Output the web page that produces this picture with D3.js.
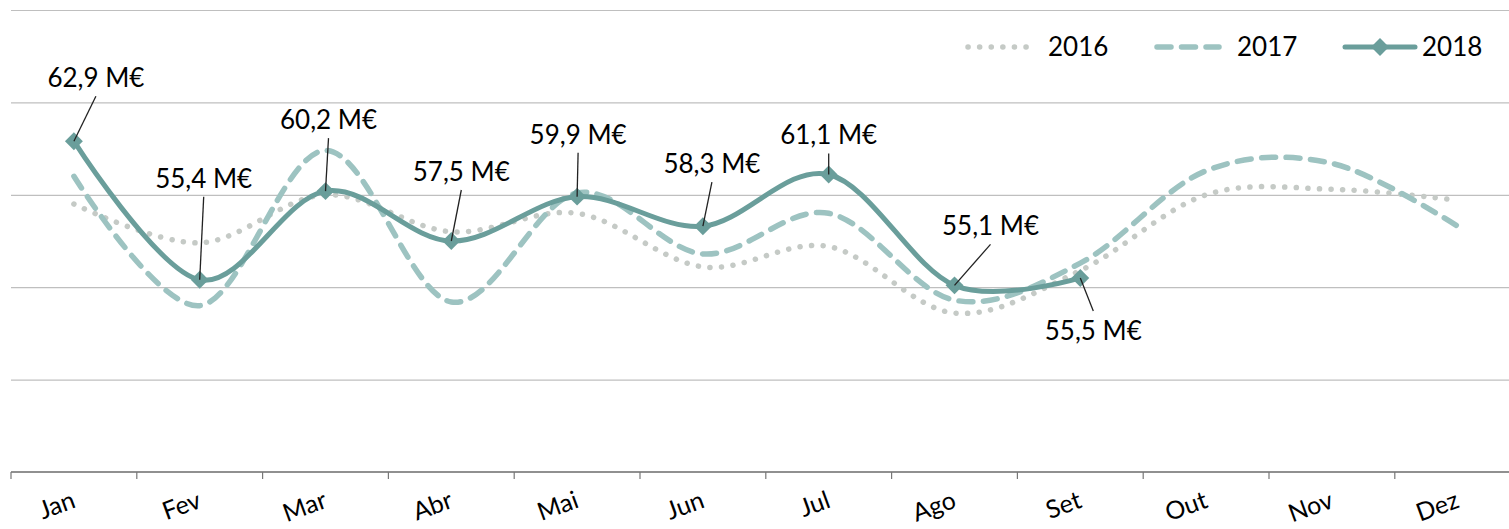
<!DOCTYPE html>
<html>
<head>
<meta charset="utf-8">
<script src="https://cdn.jsdelivr.net/npm/d3@7"></script>
<style>
  body { margin: 0; background: #fff; }
  svg { display: block; font-family: Lato, "Open Sans", sans-serif; }
</style>
</head>
<body>
<script>
const months = ["Jan", "Fev", "Mar", "Abr", "Mai", "Jun", "Jul", "Ago", "Set", "Out", "Nov", "Dez"];
const v2016 = [59.5, 57.4, 60.0, 58.0, 59.0, 56.1, 57.2, 53.6, 55.9, 60.0, 60.3, 59.7];
const v2017 = [61.0, 54.0, 62.4, 54.2, 60.1, 56.8, 59.0, 54.3, 56.3, 61.3, 61.7, 58.3];
const v2018 = [62.9, 55.4, 60.2, 57.5, 59.9, 58.3, 61.1, 55.1, 55.5];
const gridValues = [50, 55, 60, 65, 70];

// where each 2018 label sits relative to its point [dx, dy of baseline]
const labelOffsets = [[22, -54], [4, -92], [3, -62], [10, -60], [1, -53], [9, -53], [0, -30], [36, -50], [13, 62]];

const w = 1509;
const h = 529;

const svg = d3.select("body")
  .append("svg")
  .attr("width", w)
  .attr("height", h);

const x = d3.scaleBand()
  .domain(months)
  .range([11, 11 + 12 * 125.8]);

const y = d3.scaleLinear()
  .domain([45, 70])
  .range([472, 10]);

const cx = (d, i) => x(months[i]) + x.bandwidth() / 2;

// gridlines
svg.append("g")
  .attr("transform", "translate(11,0)")
  .call(d3.axisLeft(y).tickValues(gridValues).tickSize(-(w - 11)).tickFormat(""))
  .call(g => g.select(".domain").remove())
  .call(g => g.selectAll("line").attr("stroke", "#bfbfbf").attr("stroke-width", 1.2));

// x axis
const xAxis = svg.append("g");
xAxis.append("line")
  .attr("x1", 11).attr("x2", w)
  .attr("y1", y(45)).attr("y2", y(45))
  .attr("stroke", "#222").attr("stroke-width", 1.2);
xAxis.selectAll(".tick")
  .data(months)
  .enter()
  .append("line")
  .attr("x1", d => x(d)).attr("x2", d => x(d))
  .attr("y1", y(45)).attr("y2", y(45) + 7)
  .attr("stroke", "#777").attr("stroke-width", 1.2);
xAxis.selectAll(".lbl")
  .data(months)
  .enter()
  .append("text")
  .attr("text-anchor", "end")
  .attr("font-size", 25)
  .attr("fill", "#000")
  .attr("transform", d => `translate(${x(d) + x.bandwidth() / 2 + 3},${y(45) + 35}) rotate(-20)`)
  .text(d => d);

const line = d3.line()
  .x(cx)
  .y(d => y(d))
  .curve(d3.curveCardinal.tension(0));

svg.append("path")
  .datum(v2016)
  .attr("d", line)
  .attr("fill", "none")
  .attr("stroke", "#c5cac6")
  .attr("stroke-width", 5.5)
  .attr("stroke-linecap", "round")
  .attr("stroke-dasharray", "0.1 11.5");

svg.append("path")
  .datum(v2017)
  .attr("d", line)
  .attr("fill", "none")
  .attr("stroke", "#9dc3c1")
  .attr("stroke-width", 5.5)
  .attr("stroke-linecap", "round")
  .attr("stroke-dasharray", "14 10.5");

svg.append("path")
  .datum(v2018)
  .attr("d", line)
  .attr("fill", "none")
  .attr("stroke", "#6a9e9b")
  .attr("stroke-width", 5);

const diamond = d3.symbol().type(d3.symbolSquare).size(160);

svg.selectAll(".pt")
  .data(v2018)
  .enter()
  .append("path")
  .attr("d", diamond)
  .attr("fill", "#6a9e9b")
  .attr("transform", (d, i) => `translate(${cx(d, i)},${y(d)}) rotate(45)`);

// labels with leader lines
const fmt = v => d3.format(".1f")(v).replace(".", ",") + " M€";
const lbl = svg.selectAll(".dl")
  .data(v2018)
  .enter()
  .append("g");

lbl.append("line")
  .attr("x1", (d, i) => cx(d, i))
  .attr("y1", d => y(d))
  .attr("x2", (d, i) => cx(d, i) + labelOffsets[i][0])
  .attr("y2", (d, i) => y(d) + labelOffsets[i][1] + (labelOffsets[i][1] < 0 ? 9 : -29))
  .attr("stroke", "#222")
  .attr("stroke-width", 1.3);

lbl.append("text")
  .attr("x", (d, i) => cx(d, i) + labelOffsets[i][0])
  .attr("y", (d, i) => y(d) + labelOffsets[i][1])
  .attr("text-anchor", "middle")
  .attr("font-size", 26)
  .attr("fill", "#000")
  .text(fmt);

// legend
const legend = [
  { name: "2016", x: 968, color: "#c5cac6", dash: "0.1 11.5", marker: false },
  { name: "2017", x: 1157, color: "#9dc3c1", dash: "14 10.5", marker: false },
  { name: "2018", x: 1345, color: "#6a9e9b", dash: null, marker: true }
];
const lg = svg.selectAll(".lg")
  .data(legend)
  .enter()
  .append("g")
  .attr("transform", d => `translate(${d.x},47)`);

lg.append("line")
  .attr("x1", 0).attr("x2", d => d.marker ? 70 : 62)
  .attr("stroke", d => d.color)
  .attr("stroke-width", d => d.marker ? 5 : 5.5)
  .attr("stroke-linecap", "round")
  .attr("stroke-dasharray", d => d.dash);
lg.filter(d => d.marker)
  .append("path")
  .attr("d", diamond)
  .attr("fill", d => d.color)
  .attr("transform", "translate(35,0) rotate(45)");
lg.append("text")
  .attr("x", d => d.marker ? 77 : 80)
  .attr("y", 9)
  .attr("font-size", 26)
  .attr("fill", "#000")
  .text(d => d.name);
</script>
</body>
</html>
